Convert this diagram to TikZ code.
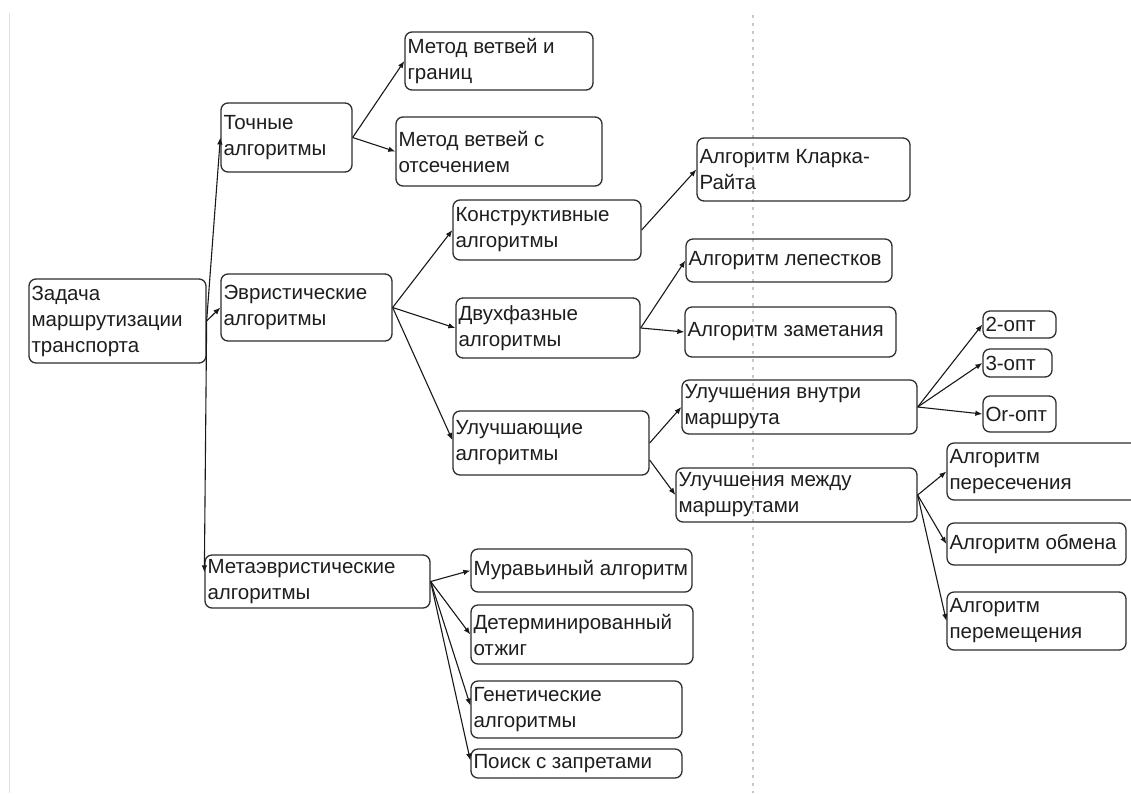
\documentclass[tikz,border=0pt]{standalone}
\usepackage{fontspec}
\setmainfont{Liberation Sans}
\usetikzlibrary{arrows.meta}
\definecolor{boxline}{HTML}{2E2E2E}
\definecolor{txt}{HTML}{1E1E1E}
\definecolor{guide}{HTML}{C8C8C8}
\definecolor{leftline}{HTML}{E0E0E0}
\tikzset{
  box/.style={draw=boxline, line width=1.3pt, rounded corners=7pt, inner xsep=2pt, inner ysep=1pt,
    align=flush left, text=txt, font=\fontsize{20.5}{26}\selectfont},
  conn/.style={line width=1.1pt, draw=black!90, -{Latex[length=7pt,width=5.5pt]}},
}
\newcommand{\bx}[6]{%
  \pgfmathsetmacro{\bw}{#4-#2}%
  \pgfmathsetmacro{\bh}{#5-#3}%
  \pgfmathsetmacro{\cx}{(#2+#4)/2}%
  \pgfmathsetmacro{\cy}{(#3+#5)/2}%
  \pgfmathsetmacro{\tw}{#4-#2-5}%
  \node[box, minimum width=\bw pt, minimum height=\bh pt, text width=\tw pt] (#1) at (\cx,\cy) {#6};%
}
\begin{document}
\begin{tikzpicture}[x=1pt,y=-1pt]
\useasboundingbox (0,0) rectangle (1131,793);
\fill[white] (0,0) rectangle (1131,793);
% guide lines
\draw[leftline, line width=1.6pt] (9.5,13) -- (9.5,793);
\draw[guide, line width=2pt, dash pattern=on 2.5pt off 5.5pt] (753,15) -- (753,793);

% nodes
\bx{z}{29}{279}{206}{363}{Задача\\маршрутизации\\транспорта}
\bx{t}{221}{103}{352}{172}{Точные\\алгоритмы}
\bx{e}{221}{274}{392}{341}{Эвристические\\алгоритмы}
\bx{m}{205}{555}{430}{608}{Метаэвристические\\алгоритмы}
\bx{mg}{405}{32}{593}{90}{Метод ветвей и\\границ}
\bx{mo}{396}{117}{602}{186}{Метод ветвей с\\отсечением}
\bx{kon}{453}{200}{641}{260}{Конструктивные\\алгоритмы}
\bx{dv}{456}{298}{640}{358}{Двухфазные\\алгоритмы}
\bx{ul}{453}{411}{649}{475}{Улучшающие\\алгоритмы}
\bx{kr}{697}{138}{910}{201}{Алгоритм Кларка-\\Райта}
\bx{lep}{686}{239}{892}{282}{Алгоритм лепестков}
\bx{zam}{685}{307}{896}{357}{Алгоритм заметания}
\bx{vn}{682}{380}{917}{434}{Улучшения внутри\\маршрута}
\bx{mz}{676}{468}{917}{522}{Улучшения между\\маршрутами}
\bx{o2}{983}{311}{1056}{338}{2-опт}
\bx{o3}{983}{349}{1052}{377}{3-опт}
\bx{or}{983}{396}{1056}{432}{Or-опт}
\bx{per}{947}{443}{1145}{500}{Алгоритм\\пересечения}
\bx{obm}{947}{523}{1126}{565}{Алгоритм обмена}
\bx{prm}{947}{592}{1126}{650}{Алгоритм\\перемещения}
\bx{mur}{471}{549}{692}{592}{Муравьиный алгоритм}
\bx{det}{471}{605}{693}{664}{Детерминированный\\отжиг}
\bx{gen}{471}{681}{682}{738}{Генетические\\алгоритмы}
\bx{poi}{471}{749}{682}{778}{Поиск с запретами}

% connectors
\draw[conn] (z.east) -- (t.west);
\draw[conn] (z.east) -- (e.west);
\draw[conn] (z.east) -- ([yshift=-18pt]m.north west);
\draw[conn] (t.east) -- (mg.west);
\draw[conn] (t.east) -- (mo.west);
\draw[conn] (e.east) -- (kon.west);
\draw[conn] (e.east) -- (dv.west);
\draw[conn] (e.east) -- ([yshift=3pt]ul.west);
\draw[conn] (kon.east) -- (kr.west);
\draw[conn] (dv.east) -- (lep.west);
\draw[conn] (dv.east) -- (zam.west);
\draw[conn] (ul.east) -- (vn.west);
\draw[conn] ([yshift=-17pt]ul.east) -- (mz.west);
\draw[conn] (vn.east) -- (o2.west);
\draw[conn] (vn.east) -- (o3.west);
\draw[conn] (vn.east) -- (or.west);
\draw[conn] (mz.east) -- (per.west);
\draw[conn] (mz.east) -- (obm.west);
\draw[conn] (mz.east) -- (prm.west);
\draw[conn] (m.east) -- (mur.west);
\draw[conn] (m.east) -- (det.west);
\draw[conn] (m.east) -- ([yshift=4pt]gen.west);
\draw[conn] (m.east) -- ([yshift=3pt]poi.west);
\end{tikzpicture}
\end{document}
